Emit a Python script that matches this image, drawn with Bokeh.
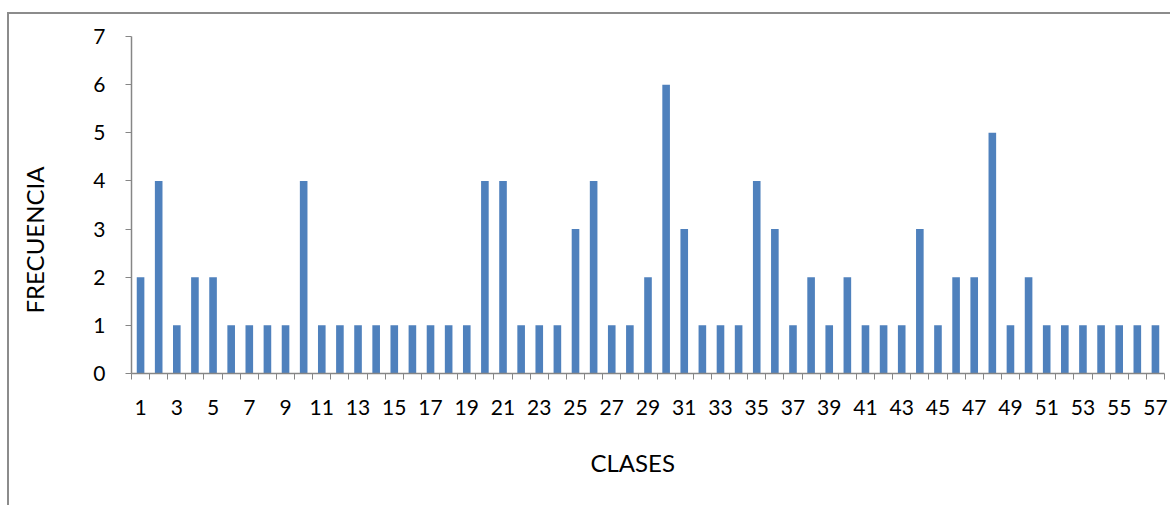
from bokeh.plotting import figure
from bokeh.models import FixedTicker, Range1d, ColumnDataSource, Title
from bokeh.embed import file_html
from bokeh.resources import INLINE

clases = list(range(1, 58))
frecuencia = [2, 4, 1, 2, 2, 1, 1, 1, 1, 4,
              1, 1, 1, 1, 1, 1, 1, 1, 1, 4,
              4, 1, 1, 1, 3, 4, 1, 1, 2, 6,
              3, 1, 1, 1, 4, 3, 1, 2, 1, 2,
              1, 1, 1, 3, 1, 2, 2, 5, 1, 2,
              1, 1, 1, 1, 1, 1, 1]
y_ticks = [0, 1, 2, 3, 4, 5, 6, 7]
x_labels = [str(c) for c in clases]
x_title = "CLASES"
y_title = "FRECUENCIA"

FONT = "Lato"
GRAY = "#868686"

src = ColumnDataSource(dict(x=clases, y=frecuencia))

p = figure(width=1163, height=493, output_backend="svg", toolbar_location=None,
           x_range=Range1d(0.5, len(clases) + 0.5), y_range=Range1d(0, 7),
           min_border_left=121, min_border_top=22, min_border_right=8,
           min_border_bottom=134)
p.styles = {"border-left": "2px solid #8c8c8c", "border-top": "2px solid #8c8c8c",
            "margin-left": "7px", "margin-top": "12px"}

p.vbar(x="x", top="y", width=0.42, source=src, fill_color="#4F81BD", line_color=None)

p.xgrid.visible = False
p.ygrid.visible = False
p.outline_line_color = None

xa = p.xaxis[0]
xa.ticker = FixedTicker(ticks=clases[::2], minor_ticks=[c - 0.5 for c in clases] + [clases[-1] + 0.5])
xa.major_label_overrides = {c: s for c, s in zip(clases, x_labels)}
xa.major_tick_line_color = None
xa.major_tick_out = 0
xa.major_tick_in = 0
xa.minor_tick_line_color = GRAY
xa.minor_tick_out = 6
xa.minor_tick_in = 0
xa.axis_line_color = GRAY
xa.axis_line_width = 1.5
xa.major_label_text_font = FONT
xa.major_label_text_font_size = "21px"
xa.major_label_text_color = "black"
xa.major_label_standoff = 20

ya = p.yaxis[0]
ya.ticker = FixedTicker(ticks=y_ticks, minor_ticks=[])
ya.major_tick_line_color = GRAY
ya.major_tick_out = 6
ya.major_tick_in = 0
ya.axis_line_color = GRAY
ya.axis_line_width = 1.5
ya.major_label_text_font = FONT
ya.major_label_text_font_size = "21px"
ya.major_label_text_color = "black"
ya.major_label_standoff = 20
# blank axis label only used as spacing so that the title sits further left
ya.axis_label = " "
ya.axis_label_text_font_size = "1px"
ya.axis_label_standoff = 27

# axis titles, placed off-centre as in the original
p.add_layout(Title(text=x_title, align="left", offset=459, vertical_align="middle",
                   standoff=58, text_font=FONT, text_font_size="24px",
                   text_font_style="normal", text_color="black"), "below")
p.add_layout(Title(text=y_title, align="left", offset=60, vertical_align="middle",
                   standoff=19, text_font=FONT, text_font_size="24px",
                   text_font_style="normal", text_color="black"), "left")

open("out.html", "w").write(file_html(p, INLINE))
